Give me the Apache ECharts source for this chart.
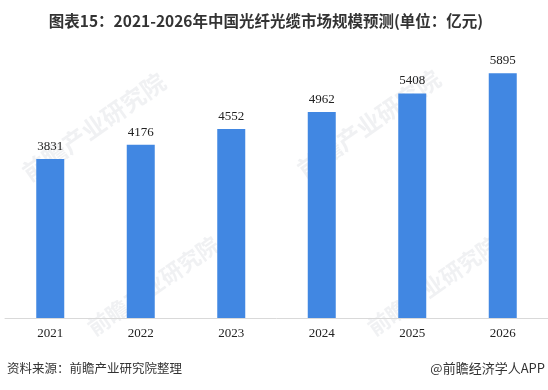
<!DOCTYPE html>
<html><head><meta charset="utf-8">
<script src="https://cdn.jsdelivr.net/npm/echarts@6/dist/echarts.min.js"></script>
<style>html,body{margin:0;padding:0;background:#fff}#c{width:548px;height:390px}</style>
</head><body><div id="c"></div>
<script>
const categories = ['2021','2022','2023','2024','2025','2026'];
const values = [3831, 4176, 4552, 4962, 5408, 5895];
const titleText = '图表15：2021-2026年中国光纤光缆市场规模预测(单位：亿元)';
const sourceText = '资料来源：前瞻产业研究院整理';
const brandText = '@前瞻经济学人APP';
const watermarkText = '前瞻产业研究院';

const wm = (x, y, size) => ({
  type: 'text', x: x, y: y, rotation: 35 * Math.PI / 180, z: -10,
  style: {text: watermarkText, fontFamily: 'Noto Sans CJK SC', fontWeight: 'bold', fontSize: size, fill: 'rgba(200,205,212,0.28)', textAlign: 'left', textVerticalAlign: 'middle'}
});

const chart = echarts.init(document.getElementById('c'));
chart.setOption({
  animation: false,
  backgroundColor: '#fff',
  title: {
    text: titleText, left: 261, top: 8, textAlign: 'center',
    textStyle: {fontFamily: 'Noto Sans CJK SC', fontWeight: 'bold', fontSize: 15.5, color: '#333'}
  },
  grid: {left: 5, width: 546, top: 69, height: 249},
  xAxis: {
    type: 'category', data: categories,
    axisLine: {lineStyle: {color: '#d9d9d9'}},
    axisTick: {show: false},
    axisLabel: {color: '#222', fontFamily: 'Liberation Serif', fontSize: 13, margin: 9}
  },
  yAxis: {type: 'value', min: 0, max: 6000, show: false, splitLine: {show: false}},
  series: [{
    type: 'bar', data: values, barWidth: 28,
    itemStyle: {color: '#4187E2'},
    label: {show: true, position: 'top', distance: 6, color: '#222', fontFamily: 'Liberation Serif', fontSize: 13}
  }],
  graphic: [
    wm(25, 175, 24), wm(300, 172, 24), wm(90, 330, 22), wm(370, 330, 22),
    {type: 'text', left: 7, top: 362, style: {text: sourceText, fontFamily: 'Noto Sans CJK SC', fontSize: 12.5, fill: '#333'}},
    {type: 'text', right: 3, top: 362, style: {text: brandText, fontFamily: 'Noto Sans CJK SC', fontSize: 13, fill: '#333'}}
  ]
});
</script></body></html>
